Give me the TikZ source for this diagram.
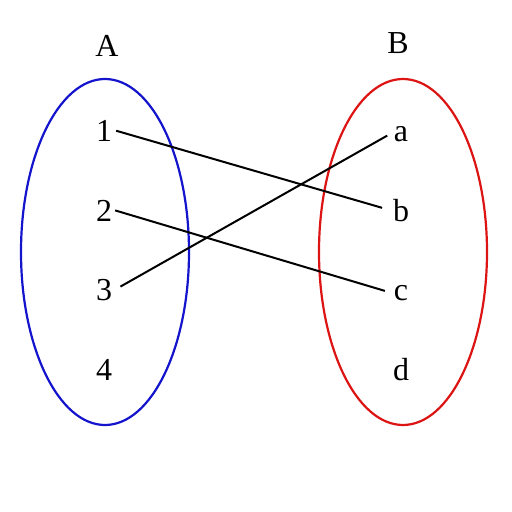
\documentclass[tikz,border=0pt]{standalone}
\usepackage{fontspec}
\setmainfont{Liberation Serif}
\definecolor{setblue}{RGB}{20,20,205}
\definecolor{setred}{RGB}{220,20,20}
\begin{document}
\begin{tikzpicture}[x=1pt,y=-1pt,
  lbl/.style={anchor=base,inner sep=3pt,font=\fontsize{32}{38}\selectfont},
  setA/.style={draw=setblue,line width=2.2pt},
  setB/.style={draw=setred,line width=2.2pt},
  mapline/.style={draw=black,line width=2pt}]
\path[use as bounding box,fill=white] (0,0) rectangle (512,512);
\draw[setA] (105,252) ellipse [x radius=84, y radius=173];
\draw[setB] (403,252) ellipse [x radius=84, y radius=173];
\node[lbl] (A) at (107,56) {A};
\node[lbl] (B) at (398,53) {B};
\node[lbl] (n1) at (104,141) {1};
\node[lbl] (n2) at (104,221) {2};
\node[lbl] (n3) at (104,300) {3};
\node[lbl] (n4) at (104,380) {4};
\node[lbl] (la) at (401,141) {a};
\node[lbl] (lb) at (401,221) {b};
\node[lbl] (lc) at (401,300) {c};
\node[lbl] (ld) at (401,380) {d};
\draw[mapline,shorten <=1pt,shorten >=8pt] (n1.east) -- (lb.west);
\draw[mapline,shorten >=6pt] (n2.east) -- (lc.west);
\draw[mapline,shorten <=6pt,shorten >=4pt] (n3.east) -- (la.west);
\end{tikzpicture}
\end{document}
